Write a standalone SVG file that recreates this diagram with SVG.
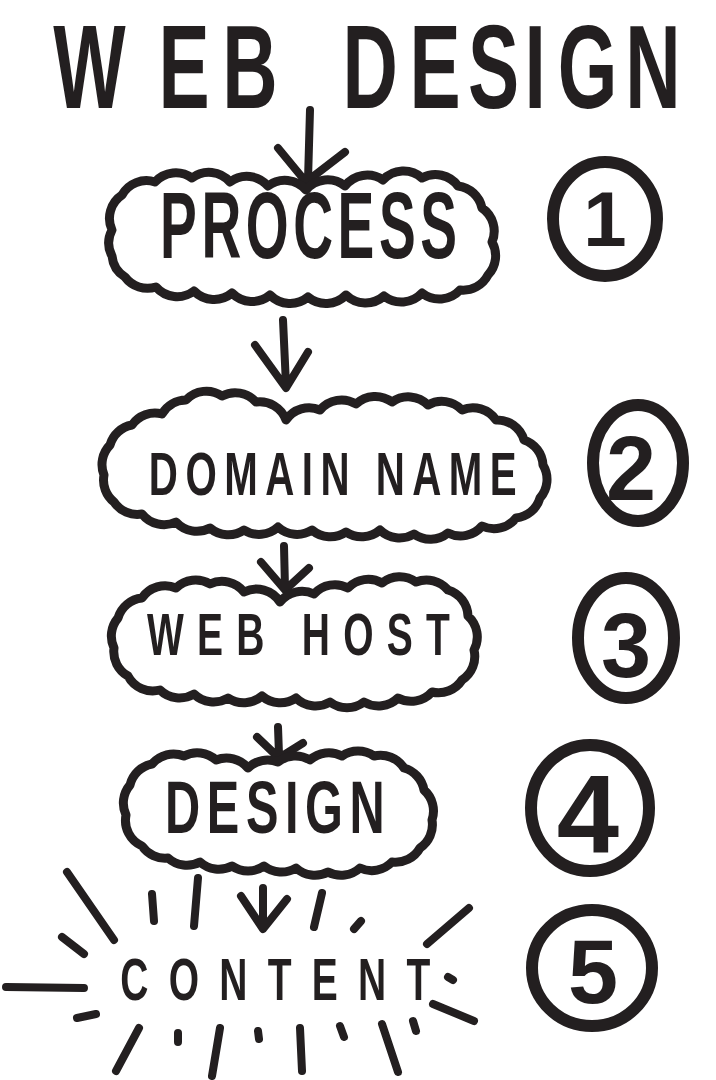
<svg xmlns="http://www.w3.org/2000/svg" width="716" height="1080" viewBox="0 0 716 1080">
<style>
.ink{fill:#231f20;font-family:"Liberation Sans",Arial,sans-serif;font-weight:bold}
.cloud{fill:#fff;stroke:#231f20;stroke-width:9;stroke-linejoin:round}
.ring{fill:none;stroke:#231f20;stroke-width:12}
.arr{fill:none;stroke:#231f20;stroke-width:8;stroke-linecap:round;stroke-linejoin:round}
.ray{fill:none;stroke:#231f20;stroke-width:8;stroke-linecap:round}
</style>
<rect width="716" height="1080" fill="#fff"/>
<g id="title">
<text class="ink" font-size="118" transform="scale(0.65,1)" x="82 244 342 460 527 630 720 807 858 962" y="108">WEB DESIGN</text>
</g>
<g id="connectors">
<path class="arr" d="M310,110 L308,180 M278,148 L306,182 L345,152"/>
<path class="arr" d="M283,320 L286,385 M255,345 L286,388 L308,352"/>
<path class="arr" d="M284,546 L285,588 M261,562 L285,590 L309,568"/>
<path class="arr" d="M278,727 L279,755 M257,737 L279,758 L303,743"/>
<path class="arr" d="M263,888 L263,926 M241,896 L263,929 L287,899"/>
</g>
<g id="node-process">
<path class="cloud" d="M112,230 A28,28 0 0 1 122,195 A28,28 0 0 1 155,182 A28,28 0 0 1 192,178 A28,28 0 0 1 230,182 A28,28 0 0 1 268,186 A28,28 0 0 1 306,190 A28,28 0 0 1 345,186 A28,28 0 0 1 383,180 A28,28 0 0 1 422,178 A28,28 0 0 1 458,186 A28,28 0 0 1 482,208 A28,28 0 0 1 492,242 A28,28 0 0 1 488,275 A28,28 0 0 1 460,290 A28,28 0 0 1 422,293 A28,28 0 0 1 384,296 A28,28 0 0 1 346,295 A28,28 0 0 1 308,297 A28,28 0 0 1 270,295 A28,28 0 0 1 232,293 A28,28 0 0 1 194,291 A28,28 0 0 1 156,287 A28,28 0 0 1 125,277 A28,28 0 0 1 112,256 A28,28 0 0 1 112,230 Z"/>
<text class="ink" font-size="95" transform="scale(0.58,1)" x="276" y="258" textLength="512" lengthAdjust="spacing">PROCESS</text>
</g>
<g id="node-domain">
<path class="cloud" d="M104,475 A28,28 0 0 1 110,445 A28,28 0 0 1 132,425 A28,28 0 0 1 162,414 A28,28 0 0 1 186,400 A28,28 0 0 1 222,396 A28,28 0 0 1 256,402 A28,28 0 0 1 286,420 A28,28 0 0 1 320,410 A28,28 0 0 1 356,404 A28,28 0 0 1 392,402 A28,28 0 0 1 428,405 A28,28 0 0 1 462,410 A28,28 0 0 1 496,420 A28,28 0 0 1 524,440 A28,28 0 0 1 543,465 A28,28 0 0 1 540,498 A28,28 0 0 1 516,518 A28,28 0 0 1 482,526 A28,28 0 0 1 448,533 A28,28 0 0 1 414,534 A28,28 0 0 1 380,530 A28,28 0 0 1 346,532 A28,28 0 0 1 312,530 A28,28 0 0 1 278,527 A28,28 0 0 1 244,530 A28,28 0 0 1 210,528 A28,28 0 0 1 176,522 A28,28 0 0 1 142,514 A28,28 0 0 1 114,502 A28,28 0 0 1 104,475 Z"/>
<text class="ink" font-size="62" transform="scale(0.65,1)" x="229" y="495" textLength="566" lengthAdjust="spacing">DOMAIN NAME</text>
</g>
<g id="node-webhost">
<path class="cloud" d="M114,648 A28,28 0 0 1 118,618 A28,28 0 0 1 142,598 A28,28 0 0 1 176,588 A28,28 0 0 1 210,584 A28,28 0 0 1 244,592 A28,28 0 0 1 280,602 A28,28 0 0 1 314,594 A28,28 0 0 1 348,588 A28,28 0 0 1 382,583 A28,28 0 0 1 416,582 A28,28 0 0 1 448,590 A28,28 0 0 1 468,616 A28,28 0 0 1 474,650 A28,28 0 0 1 462,680 A28,28 0 0 1 432,692 A28,28 0 0 1 398,698 A28,28 0 0 1 364,702 A28,28 0 0 1 330,702 A28,28 0 0 1 296,698 A28,28 0 0 1 262,696 A28,28 0 0 1 228,698 A28,28 0 0 1 194,694 A28,28 0 0 1 160,690 A28,28 0 0 1 128,676 A28,28 0 0 1 114,648 Z"/>
<text class="ink" font-size="60" transform="scale(0.65,1)" x="226" y="655" textLength="466" lengthAdjust="spacing">WEB HOST</text>
</g>
<g id="node-design">
<path class="cloud" d="M126,815 A28,28 0 0 1 130,785 A28,28 0 0 1 152,764 A28,28 0 0 1 184,756 A28,28 0 0 1 216,760 A28,28 0 0 1 248,768 A28,28 0 0 1 278,762 A28,28 0 0 1 310,760 A28,28 0 0 1 342,756 A28,28 0 0 1 374,756 A28,28 0 0 1 404,768 A28,28 0 0 1 424,790 A28,28 0 0 1 432,820 A28,28 0 0 1 420,848 A28,28 0 0 1 392,862 A28,28 0 0 1 360,868 A28,28 0 0 1 328,872 A28,28 0 0 1 296,868 A28,28 0 0 1 264,866 A28,28 0 0 1 232,866 A28,28 0 0 1 200,862 A28,28 0 0 1 168,858 A28,28 0 0 1 142,846 A28,28 0 0 1 126,815 Z"/>
<text class="ink" font-size="75" transform="scale(0.65,1)" x="254" y="833" textLength="338" lengthAdjust="spacing">DESIGN</text>
</g>
<g id="node-content">
<text class="ink" font-size="60" transform="scale(0.65,1)" x="185" y="1000" textLength="477" lengthAdjust="spacing">CONTENT</text>
<path class="ray" d="M67,872 L114,940 M62,937 L84,954 M6,987 L84,988 M77,1018 L96,1014 M139,1028 L116,1071 M178,1033 L178,1042 M220,1028 L212,1076 M258,1031 L259,1039 M300,1028 L302,1071 M340,1026 L344,1037 M382,1024 L398,1072 M413,1021 L416,1031 M433,1004 L474,1021 M448,977 L453,980 M427,944 L469,908 M354,929 L361,921 M152,894 L154,921 M198,878 L194,926 M322,893 L314,927"/>
</g>
<g id="badge-1"><ellipse class="ring" cx="605" cy="219" rx="52" ry="57"/><text class="ink" font-size="78" text-anchor="middle" x="605" y="246">1</text></g>
<g id="badge-2"><ellipse class="ring" cx="638" cy="463" rx="45" ry="58"/><text class="ink" font-size="90" text-anchor="middle" x="631" y="500">2</text></g>
<g id="badge-3"><ellipse class="ring" cx="626" cy="638" rx="48" ry="60"/><text class="ink" font-size="90" text-anchor="middle" x="626" y="677">3</text></g>
<g id="badge-4"><ellipse class="ring" cx="590" cy="808" rx="59" ry="63"/><text class="ink" font-size="112" text-anchor="middle" x="588" y="853">4</text></g>
<g id="badge-5"><ellipse class="ring" cx="592" cy="968" rx="60" ry="58" stroke-width="10"/><text class="ink" font-size="90" text-anchor="middle" x="593" y="1003">5</text></g>
</svg>
